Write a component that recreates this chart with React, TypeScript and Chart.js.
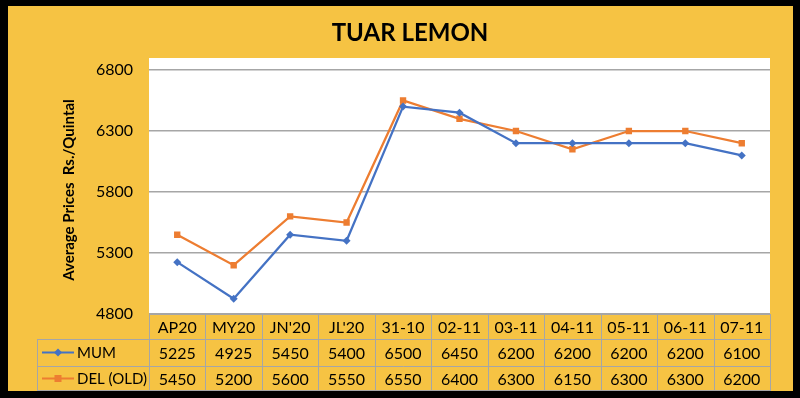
import React, { useEffect, useRef } from "react";
import { Chart, registerables } from "chart.js";

Chart.register(...registerables);

const categories = ["AP20", "MY20", "JN'20", "JL'20", "31-10", "02-11", "03-11", "04-11", "05-11", "06-11", "07-11"];
const mumValues = [5225, 4925, 5450, 5400, 6500, 6450, 6200, 6200, 6200, 6200, 6100];
const delValues = [5450, 5200, 5600, 5550, 6550, 6400, 6300, 6150, 6300, 6300, 6200];
const seriesNames = ["MUM", "DEL (OLD)"];
const yTicks = [4800, 5300, 5800, 6300, 6800];
const titleText = "TUAR LEMON";
const yTitleText = "Average Prices  Rs./Quintal";

const GOLD = "#F6C343";
const BLUE = "#4472C4";
const ORANGE = "#ED7D31";
const GRID = "#A6A6A6";
const FONT = "Lato, 'Open Sans', sans-serif";

export default function App() {
  const ref = useRef<HTMLCanvasElement | null>(null);
  useEffect(() => {
    document.body.style.margin = "0";
    const canvas = ref.current;
    if (!canvas) return;

    const decor = {
      id: "decor",
      beforeDraw(chart: any) {
        const ctx = chart.ctx;
        const a = chart.chartArea;
        ctx.save();
        ctx.fillStyle = "#000";
        ctx.fillRect(0, 0, 800, 398);
        ctx.fillStyle = GOLD;
        ctx.fillRect(8, 6, 785, 385);
        ctx.fillStyle = "#fff";
        ctx.fillRect(a.left, a.top - 12, a.right - a.left, a.bottom - a.top + 12);
        // title
        ctx.fillStyle = "#000";
        ctx.font = `bold 24px ${FONT}`;
        ctx.textAlign = "center";
        ctx.textBaseline = "middle";
        ctx.fillText(titleText, 410, 33);
        // y title
        ctx.translate(69, (a.top + a.bottom) / 2 - 2);
        ctx.rotate(-Math.PI / 2);
        ctx.font = `bold 15px ${FONT}`;
        ctx.fillText(yTitleText, 0, 0);
        ctx.restore();
      },
      afterDraw(chart: any) {
        const ctx = chart.ctx;
        const a = chart.chartArea;
        const xs = chart.scales.x;
        const n = categories.length;
        const colW = (a.right - a.left) / n;
        const r0 = a.bottom;
        const r1 = 339;
        const r2 = 366;
        const r3 = 391;
        const legLeft = 37;
        ctx.save();
        ctx.strokeStyle = GRID;
        ctx.lineWidth = 1;
        const line = (x1: number, y1: number, x2: number, y2: number) => {
          ctx.beginPath();
          ctx.moveTo(x1, y1);
          ctx.lineTo(x2, y2);
          ctx.stroke();
        };
        line(a.left, r0 + 0.5, a.right, r0 + 0.5);
        line(legLeft, r1 + 0.5, a.right, r1 + 0.5);
        line(legLeft, r2 + 0.5, a.right, r2 + 0.5);
        line(legLeft, r3 - 0.5, a.right, r3 - 0.5);
        for (let i = 0; i <= n; i++) {
          const x = Math.round(a.left + i * colW) + 0.5;
          line(x, r0, x, r3);
        }
        line(legLeft + 0.5, r1, legLeft + 0.5, r3);
        ctx.fillStyle = "#000";
        ctx.font = `16px ${FONT}`;
        ctx.textAlign = "center";
        ctx.textBaseline = "middle";
        for (let i = 0; i < n; i++) {
          const x = xs.getPixelForValue(i);
          ctx.fillText(categories[i], x, (r0 + r1) / 2 + 1);
          ctx.fillText(String(mumValues[i]), x, (r1 + r2) / 2 + 1);
          ctx.fillText(String(delValues[i]), x, (r2 + r3) / 2 + 1);
        }
        // legend keys
        const keys = [
          { y: (r1 + r2) / 2, color: BLUE, name: seriesNames[0], shape: "diamond" },
          { y: (r2 + r3) / 2, color: ORANGE, name: seriesNames[1], shape: "square" },
        ];
        ctx.font = `15px ${FONT}`;
        keys.forEach((k) => {
          ctx.strokeStyle = k.color;
          ctx.lineWidth = 2;
          line(42, k.y, 74, k.y);
          ctx.fillStyle = k.color;
          if (k.shape === "diamond") {
            ctx.beginPath();
            ctx.moveTo(58, k.y - 4);
            ctx.lineTo(62, k.y);
            ctx.lineTo(58, k.y + 4);
            ctx.lineTo(54, k.y);
            ctx.closePath();
            ctx.fill();
          } else {
            ctx.fillRect(54.5, k.y - 3.5, 7, 7);
          }
          ctx.fillStyle = "#000";
          ctx.textAlign = "left";
          ctx.fillText(k.name, 77, k.y + 1);
        });
        ctx.restore();
      },
    };

    const chart = new Chart(canvas, {
      type: "line",
      data: {
        labels: categories,
        datasets: [
          {
            label: seriesNames[0],
            data: mumValues,
            borderColor: BLUE,
            backgroundColor: BLUE,
            borderWidth: 2.25,
            pointStyle: "rectRot",
            pointRadius: 4,
            pointBorderWidth: 0,
            tension: 0,
          },
          {
            label: seriesNames[1],
            data: delValues,
            borderColor: ORANGE,
            backgroundColor: ORANGE,
            borderWidth: 2.25,
            pointStyle: "rect",
            pointRadius: 4.5,
            pointBorderWidth: 0,
            tension: 0,
          },
        ],
      },
      options: {
        responsive: false,
        animation: false,
        layout: { padding: { left: 0, top: 70, right: 30, bottom: 84 } },
        plugins: { legend: { display: false }, title: { display: false }, tooltip: { enabled: false } },
        scales: {
          x: {
            type: "category",
            offset: true,
            display: false,
          },
          y: {
            min: 4800,
            max: 6800,
            afterFit(scale: any) {
              scale.width = 149;
            },
            afterBuildTicks(scale: any) {
              scale.ticks = yTicks.map((v) => ({ value: v }));
            },
            border: { display: false },
            grid: { color: GRID, lineWidth: 1.5, drawTicks: false },
            ticks: {
              padding: 16,
              color: "#000",
              font: { family: FONT, size: 16 },
              callback: (v: any) => String(v),
            },
          },
        },
      },
      plugins: [decor],
    });
    return () => chart.destroy();
  }, []);
  return (
    <div style={{ position: "fixed", left: 0, top: 0, width: 800, height: 398 }}>
      <canvas ref={ref} width={800} height={398} style={{ width: 800, height: 398, display: "block" }} />
    </div>
  );
}
